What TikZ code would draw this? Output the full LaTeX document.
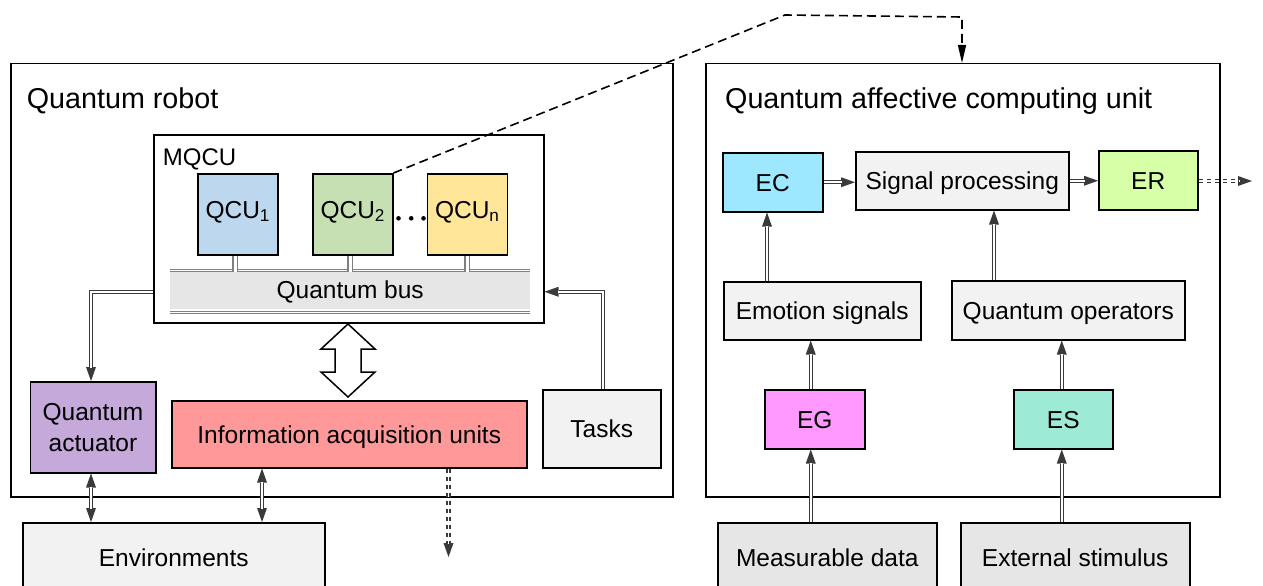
\documentclass[tikz,border=0pt]{standalone}
\usepackage{fontspec}
\setmainfont{Liberation Sans}
\usetikzlibrary{arrows.meta,calc}
\definecolor{cgray}{HTML}{3A3A3A}
\definecolor{fq1}{HTML}{BDD7EE}
\definecolor{fq2}{HTML}{C6E0B4}
\definecolor{fqn}{HTML}{FFE699}
\definecolor{fact}{HTML}{C4A9DA}
\definecolor{finfo}{HTML}{FF9999}
\definecolor{flight}{HTML}{F2F2F2}
\definecolor{fdark}{HTML}{E6E6E6}
\definecolor{fbus}{HTML}{E6E6E6}
\definecolor{fec}{HTML}{9EE8FF}
\definecolor{fer}{HTML}{D6FFA8}
\definecolor{feg}{HTML}{FF99FF}
\definecolor{fes}{HTML}{9DEBD6}
\begin{document}
\begin{tikzpicture}[x=1pt,y=-1pt,
  tip/.tip={Triangle[length=14pt,width=10pt,line width=0pt]},
  boxb/.style={draw=black, line width=1.5pt, inner sep=0pt, anchor=north west,
    font=\fontsize{24.5}{30.7}\selectfont},
  box/.style={boxb, text height=17.5pt, text depth=0pt},
  conn/.style={draw=cgray, line width=4.4pt, -tip,
    postaction={draw=white, line width=1.9pt, -, shorten >=13pt}},
  conn2/.style={draw=cgray, line width=4.4pt, tip-tip,
    postaction={draw=white, line width=1.9pt, -, shorten >=13pt, shorten <=13pt}},
  dconn/.style={draw=cgray, line width=4.4pt, dash pattern=on 4pt off 4pt, -tip,
    postaction={draw=white, line width=1.9pt, -, dash pattern=on 4pt off 4pt, shorten >=13pt}},
  link/.style={draw=gray, line width=1.4pt, double=white, double distance=3.2pt},
  busline/.style={draw=gray, line width=0.9pt, double=white, double distance=1pt},
  bigdash/.style={draw=black, line width=1.6pt, dash pattern=on 9pt off 5pt,
    -{Triangle[length=18pt,width=8pt]}},
  titletext/.style={anchor=base west, inner sep=0pt, font=\fontsize{28.7}{34}\selectfont},
]
\useasboundingbox (0,0) rectangle (1263,586);

% outer frames
\node[box, minimum width=662, minimum height=433] (lbox) at (10,63) {};
\node[box, minimum width=514, minimum height=433] (rbox) at (705,63) {};
\node[titletext] (ltitle) at (26.7,108.3) {Quantum robot};
\node[titletext] (rtitle) at (725,108.3) {Quantum affective computing unit};

% MQCU
\node[box, minimum width=390, minimum height=188] (mqcu) at (153,134) {};
\node[anchor=base west, inner sep=0pt, font=\fontsize{24}{29}\selectfont] (mqculabel) at (162.7,165) {MQCU};
\node[box, fill=fq1, minimum width=80, minimum height=81, text depth=10pt] (q1) at (197,173) {QCU\textsubscript{1}};
\node[box, fill=fq2, minimum width=80, minimum height=81, text depth=10pt] (q2) at (312,173) {QCU\textsubscript{2}};
\node[box, fill=fqn, minimum width=80, minimum height=81, text depth=10pt] (qn) at (426.5,173) {QCU\textsubscript{n}};
\fill (398.5,218.3) circle (2.3) (411.2,218.3) circle (2.3) (423.5,218.3) circle (2.3);

\node[fill=fbus, inner sep=0pt, anchor=north west, minimum width=360, minimum height=37,
  font=\fontsize{24.5}{30.7}\selectfont, text height=17.5pt, text depth=0pt] (bus) at (170,271.5) {Quantum bus};
\draw[busline] ([yshift=1.3pt]bus.north west) -- ([yshift=1.3pt]bus.north east);
\draw[busline] ([yshift=-3.2pt]bus.south west) -- ([yshift=-3.2pt]bus.south east);
\draw[link] ([xshift=-2.5pt]q1.south) -- ([xshift=-2.5pt]q1.south |- bus.north);
\draw[link] ([xshift=-2.5pt]q2.south) -- ([xshift=-2.5pt]q2.south |- bus.north);
\draw[link] (qn.south) -- (qn.south |- bus.north);

% lower left boxes
\node[boxb, fill=fact, minimum width=125.5, minimum height=91, align=center] (act) at (29.5,381) {Quantum\\actuator};
\node[box, fill=finfo, minimum width=355, minimum height=67] (info) at (171,400) {Information acquisition units};
\node[box, fill=flight, minimum width=118, minimum height=78] (tasks) at (542,389) {Tasks};
\node[box, fill=flight, minimum width=302, minimum height=70] (env) at (22,522) {Environments};

% big double arrow between MQCU and information acquisition units
\draw[line width=1.5pt, fill=white, line join=miter]
  (348,324) -- (375,349) -- (361,349) -- (361,372) -- (375,372) -- (348,397)
  -- (321,372) -- (335,372) -- (335,349) -- (321,349) -- cycle;

% left connectors
\draw[conn] ([yshift=-63pt]mqcu.west) -| ([xshift=-2pt]act.north);
\draw[conn] ([xshift=1pt]tasks.north) |- ([yshift=-63pt]mqcu.east);
\draw[conn2] ([xshift=-2pt]act.south) -- ([xshift=-2pt]act.south |- env.north);
\draw[conn2] ([xshift=91pt]info.south west) -- ([xshift=91pt]info.south west |- env.north);
\coordinate (infoout) at (448.5,557);
\draw[dconn] (infoout |- info.south) -- (infoout);

% dashed link from QCU2 to affective unit
\coordinate (bend1) at (785,15);
\coordinate (bend2) at (962,17);
\draw[bigdash] (q2.north east) -- (bend1) -- (bend2) -- (bend2 |- rbox.north);

% right side boxes
\node[box, fill=fec, minimum width=100, minimum height=59] (ec) at (722,152) {EC};
\node[box, fill=flight, minimum width=213, minimum height=58] (sp) at (855,151) {Signal processing};
\node[box, fill=fer, minimum width=99, minimum height=59] (er) at (1098,150) {ER};
\node[box, fill=flight, minimum width=197, minimum height=58] (emo) at (723,281) {Emotion signals};
\node[box, fill=flight, minimum width=233, minimum height=59] (qo) at (951,280) {Quantum operators};
\node[box, fill=feg, minimum width=100, minimum height=59] (eg) at (764,389) {EG};
\node[box, fill=fes, minimum width=99, minimum height=59] (es) at (1013,389) {ES};
\node[box, fill=fdark, minimum width=219, minimum height=70] (meas) at (717,522) {Measurable data};
\node[box, fill=fdark, minimum width=229, minimum height=70] (ext) at (960,522) {External stimulus};

% right connectors
\draw[conn] (ec.east) -- (sp.west |- ec.east);
\draw[conn] (sp.east) -- (er.west |- sp.east);
\coordinate (erout) at (1252,181);
\draw[dconn] (er.east |- erout) -- (erout);
\draw[conn] ([xshift=44pt]emo.north west) -- ([xshift=44pt]emo.north west |- ec.south);
\draw[conn] ([xshift=43pt]qo.north west) -- ([xshift=43pt]qo.north west |- sp.south);
\draw[conn] ([xshift=-4pt]eg.north) -- ([xshift=-4pt]eg.north |- emo.south);
\draw[conn] ([xshift=-1.5pt]es.north) -- ([xshift=-1.5pt]es.north |- qo.south);
\draw[conn] ([xshift=-4pt]eg.south |- meas.north) -- ([xshift=-4pt]eg.south);
\draw[conn] ([xshift=-1.5pt]es.south |- ext.north) -- ([xshift=-1.5pt]es.south);
\end{tikzpicture}
\end{document}
